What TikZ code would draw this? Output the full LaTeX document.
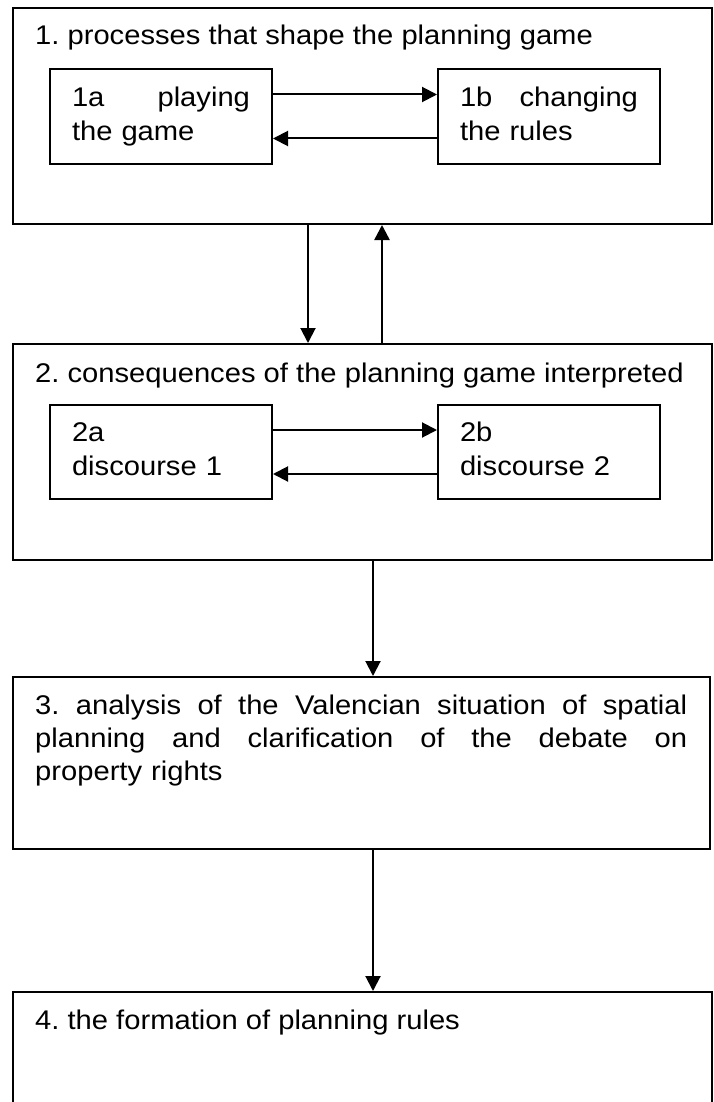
\documentclass[tikz,border=0pt]{standalone}
\usepackage{fontspec}
\setmainfont[FakeStretch=1.08]{Liberation Sans}
\usetikzlibrary{arrows.meta}
\newcommand{\spreadline}[2]{\makebox[#1][s]{\spaceskip=0pt plus 1fil\relax #2}}
\tikzset{
    bigbox/.style={draw, line width=2pt, anchor=north west, inner sep=0pt},
    smallbox/.style={draw, line width=2pt, anchor=north west, inner xsep=22pt, inner ysep=0pt,
        text width=178pt, minimum height=95pt, align=left, font=\fontsize{27}{34}\selectfont},
    title/.style={anchor=base west, inner sep=0pt, align=left, font=\fontsize{27}{33}\selectfont},
    arr/.style={line width=2pt, -{Triangle[length=15pt, width=15pt]}}
}
\frenchspacing
\begin{document}
\begin{tikzpicture}[x=1pt, y=-1pt]
        \useasboundingbox (0, 0) rectangle (713, 1102);
        \node[bigbox, minimum width=699pt, minimum height=216pt] (proc) at (12, 7) {};
        \node[bigbox, minimum width=699pt, minimum height=216pt] (cons) at (12, 343) {};
        \node[bigbox, minimum width=697pt, minimum height=172pt] (anal) at (12, 676) {};
        \node[bigbox, minimum width=699pt, minimum height=130pt] (form) at (12, 991) {};

        \node[title] (proctxt) at (35, 45) {1. processes that shape the planning game};
        \node[title] (constxt) at (35, 382) {2. consequences of the planning game interpreted};
        \node[title, text width=652pt] (analtxt) at (35, 714)
            {\spreadline{652pt}{3. analysis of the Valencian situation of spatial}\\
             \spreadline{652pt}{planning and clarification of the debate on}\\
             property rights};
        \node[title] (formtxt) at (35, 1029) {4. the formation of planning rules};

        \node[smallbox] (play) at (49, 68) {\spreadline{178pt}{1a playing}\\the game};
        \node[smallbox] (change) at (437, 68) {\spreadline{178pt}{1b changing}\\the rules\vphantom{g}};
        \node[smallbox, minimum height=94pt] (disc1) at (49, 404) {2a\\discourse 1\vphantom{g}};
        \node[smallbox, minimum height=94pt] (disc2) at (437, 404) {2b\\discourse 2\vphantom{g}};

        \draw[arr] ([yshift=22pt]play.east) -- ([yshift=22pt]change.west);
        \draw[arr] ([yshift=-22pt]change.west) -- ([yshift=-22pt]play.east);
        \draw[arr] ([yshift=22pt]disc1.east) -- ([yshift=22pt]disc2.west);
        \draw[arr] ([yshift=-22pt]disc2.west) -- ([yshift=-22pt]disc1.east);

        \draw[arr] ([xshift=296pt]proc.south west) -- ([xshift=296pt]cons.north west);
        \draw[arr, line width=2.5pt] ([xshift=370pt]cons.north west) -- ([xshift=370pt]proc.south west);
        \draw[arr] ([xshift=361pt]cons.south west) -- ([xshift=361pt]anal.north west);
        \draw[arr] ([xshift=361pt]anal.south west) -- ([xshift=361pt]form.north west);
\end{tikzpicture}
\end{document}
